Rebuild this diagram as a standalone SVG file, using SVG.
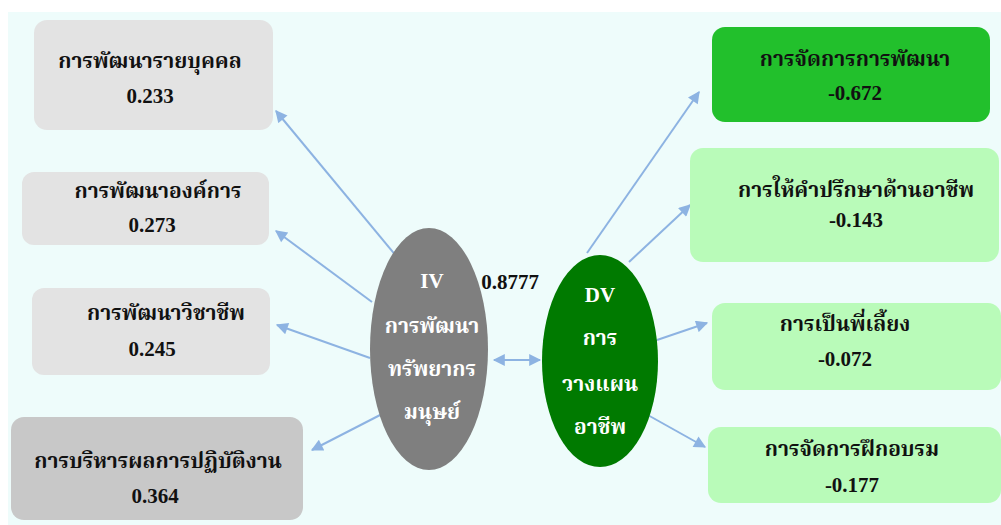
<svg xmlns="http://www.w3.org/2000/svg" width="1001" height="525" viewBox="0 0 1001 525">
<style>
.t{font-family:"Liberation Serif","Noto Serif Thai","Noto Sans Thai","Tlwg Typo",serif;font-weight:bold;font-size:21px;text-anchor:middle;fill:#111}
.w{fill:#fff}
.c{stroke:#8db3e2;stroke-width:2;fill:none}
</style>
<defs>
<marker id="ah" viewBox="0 0 10 10" refX="9" refY="5" markerWidth="7" markerHeight="6" markerUnits="strokeWidth" orient="auto-start-reverse">
<path d="M0,0 L10,5 L0,10 z" fill="#8db3e2"/>
</marker>
</defs>
<rect x="0" y="0" width="1001" height="525" fill="#ffffff"/>
<rect x="8" y="12" width="993" height="513" fill="#eefcfb"/>
<g id="connectors">
<line class="c" x1="397" y1="257" x2="276" y2="111" marker-end="url(#ah)"/>
<line class="c" x1="372" y1="302" x2="276" y2="231" marker-end="url(#ah)"/>
<line class="c" x1="370" y1="358" x2="277" y2="325" marker-end="url(#ah)"/>
<line class="c" x1="384" y1="413" x2="312" y2="450" marker-end="url(#ah)"/>
<line class="c" x1="587" y1="253" x2="699" y2="92" marker-end="url(#ah)"/>
<line class="c" x1="629" y1="262" x2="690" y2="205" marker-end="url(#ah)"/>
<line class="c" x1="657" y1="340" x2="707" y2="323" marker-end="url(#ah)"/>
<line class="c" x1="646" y1="414" x2="705" y2="447" marker-end="url(#ah)"/>
<line class="c" x1="494" y1="360" x2="540" y2="360" marker-start="url(#ah)" marker-end="url(#ah)"/>
</g>
<g id="box1"><rect x="34" y="20" width="239" height="110" rx="13" fill="#e3e3e3"/><text class="t" x="150" y="68">การพัฒนารายบุคคล</text><text class="t" x="150" y="103">0.233</text></g>
<g id="box2"><rect x="22" y="172" width="247" height="73" rx="12" fill="#e3e3e3"/><text class="t" x="158" y="198">การพัฒนาองค์การ</text><text class="t" x="152" y="232">0.273</text></g>
<g id="box3"><rect x="32" y="288" width="238" height="87" rx="12" fill="#e3e3e3"/><text class="t" x="166" y="320">การพัฒนาวิชาชีพ</text><text class="t" x="152" y="356">0.245</text></g>
<g id="box4"><rect x="11" y="417" width="292" height="103" rx="13" fill="#c8c8c8"/><text class="t" x="158" y="468">การบริหารผลการปฏิบัติงาน</text><text class="t" x="155" y="503">0.364</text></g>
<g id="iv"><ellipse cx="429" cy="349" rx="59" ry="121" fill="#7f7f7f"/>
<text class="t w" x="432" y="288">IV</text><text class="t w" x="432" y="333">การพัฒนา</text><text class="t w" x="432" y="376">ทรัพยากร</text><text class="t w" x="432" y="419">มนุษย์</text></g>
<g id="lbl"><text class="t" x="510" y="289">0.8777</text></g>
<g id="dv"><ellipse cx="600" cy="361" rx="58" ry="106" fill="#007a00"/>
<text class="t w" x="600" y="302">DV</text><text class="t w" x="600" y="345">การ</text><text class="t w" x="600" y="391">วางแผน</text><text class="t w" x="600" y="434">อาชีพ</text></g>
<g id="r1"><rect x="712" y="27" width="278" height="95" rx="13" fill="#22c02c"/><text class="t" x="855" y="66">การจัดการการพัฒนา</text><text class="t" x="855" y="100">-0.672</text></g>
<g id="r2"><rect x="690" y="148" width="309" height="114" rx="13" fill="#b9fbb9"/><text class="t" x="856" y="197">การให้คำปรึกษาด้านอาชีพ</text><text class="t" x="856" y="227">-0.143</text></g>
<g id="r3"><rect x="712" y="303" width="289" height="87" rx="13" fill="#b9fbb9"/><text class="t" x="845" y="331">การเป็นพี่เลี้ยง</text><text class="t" x="845" y="366">-0.072</text></g>
<g id="r4"><rect x="708" y="427" width="293" height="76" rx="13" fill="#b9fbb9"/><text class="t" x="852" y="456">การจัดการฝึกอบรม</text><text class="t" x="852" y="492">-0.177</text></g>
</svg>
